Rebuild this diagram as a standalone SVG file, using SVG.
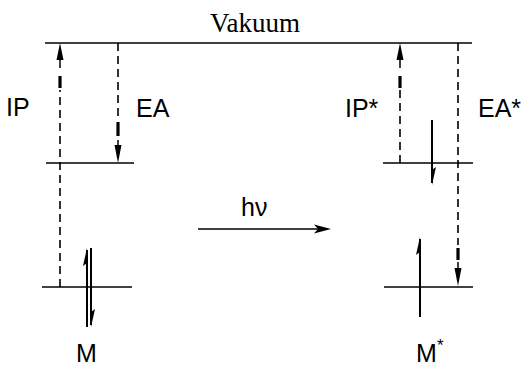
<svg xmlns="http://www.w3.org/2000/svg" width="524" height="374" viewBox="0 0 524 374">
<style>
.lvl{stroke:#000;stroke-width:1.5;fill:none}
.dash{stroke:#000;stroke-width:1.6;stroke-dasharray:8,5;fill:none}
.thick{stroke:#000;stroke-width:3.2;fill:none}
.spin{stroke:#000;stroke-width:2;fill:none}
.head{fill:#000}
.lbl{font-family:"Liberation Sans",Arial,sans-serif;font-size:25px;fill:#000}
.ser{font-family:"Liberation Serif","Times New Roman",serif;font-size:27px;fill:#000}
</style>
<rect width="524" height="374" fill="#fff"/>
<g id="vakuum">
<line class="lvl" x1="45" y1="43" x2="472" y2="43"/>
<text class="ser" x="210" y="32">Vakuum</text>
</g>
<g id="M">
<line class="lvl" x1="46" y1="163" x2="134" y2="163"/>
<line class="lvl" x1="42" y1="287" x2="132" y2="287"/>
<line class="spin" x1="87" y1="327" x2="87" y2="250"/>
<polygon class="head" points="87,248 83,266 87,263"/>
<line class="spin" x1="91" y1="248" x2="91" y2="325"/>
<polygon class="head" points="91,327 95,309 91,312"/>
<text class="lbl" x="76" y="362">M</text>
</g>
<g id="Mstar">
<line class="lvl" x1="383" y1="163" x2="473" y2="163"/>
<line class="lvl" x1="384" y1="287" x2="473" y2="287"/>
<line class="spin" x1="432" y1="120" x2="432" y2="183"/>
<polygon class="head" points="432,185 436,167 432,170"/>
<line class="spin" x1="420" y1="317" x2="420" y2="239"/>
<polygon class="head" points="420,237 416,255 420,252"/>
<text class="lbl" x="416" y="362">M</text>
<text class="lbl" x="437" y="351" style="font-size:17px">*</text>
</g>
<g id="connectors">
<line class="dash" x1="60" y1="287" x2="60" y2="90"/>
<line class="thick" x1="60" y1="88" x2="60" y2="76"/>
<polygon class="head" points="60,43 56.5,60 63.5,60"/>
<line class="lvl" x1="60" y1="58" x2="60" y2="68"/>
<line class="dash" x1="118" y1="43" x2="118" y2="118"/>
<line class="thick" x1="118" y1="122" x2="118" y2="136"/>
<polygon class="head" points="118,163 114.5,145 121.5,145"/>
<line class="lvl" x1="118" y1="140" x2="118" y2="147"/>
<line class="dash" x1="400" y1="163" x2="400" y2="90"/>
<line class="thick" x1="400" y1="88" x2="400" y2="76"/>
<polygon class="head" points="400,43 396.5,60 403.5,60"/>
<line class="lvl" x1="400" y1="58" x2="400" y2="68"/>
<line class="dash" x1="458" y1="43" x2="458" y2="245"/>
<line class="thick" x1="458" y1="248" x2="458" y2="260"/>
<polygon class="head" points="458,286 454.5,268 461.5,268"/>
<line class="lvl" x1="458" y1="262" x2="458" y2="270"/>
<line class="lvl" x1="198" y1="229" x2="320" y2="229"/>
<polygon class="head" points="331,229 314,224.5 318,229 314,233.5"/>
</g>
<g id="labels">
<text class="lbl" x="6" y="116">IP</text>
<text class="lbl" x="136" y="117">EA</text>
<text class="lbl" x="345" y="117">IP*</text>
<text class="lbl" x="478" y="117">EA*</text>
<text class="lbl" x="241" y="216">hν</text>
</g>
</svg>
